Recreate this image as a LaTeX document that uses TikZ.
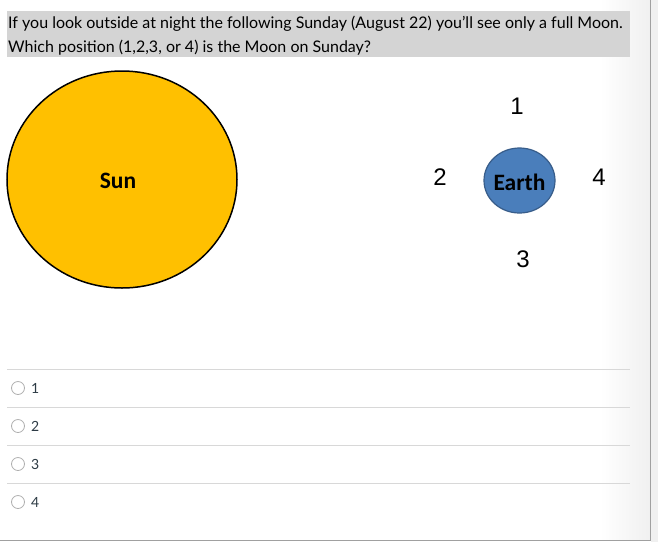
\documentclass[tikz,border=0pt]{standalone}
\usepackage{fontspec}
\setmainfont{Lato}
\newfontfamily\calfont{Carlito}
\newfontfamily\arialfont{Liberation Sans}
\usetikzlibrary{shapes.geometric}
\definecolor{bandgray}{HTML}{D4D4D4}
\definecolor{sungold}{HTML}{FFC000}
\definecolor{earthblue}{HTML}{4A7EBB}
\definecolor{earthedge}{HTML}{385D8A}
\definecolor{rulegray}{HTML}{D8D8D8}
\definecolor{optink}{HTML}{2D3B45}
\definecolor{radiogray}{HTML}{AFAFAF}
\definecolor{framegray}{HTML}{A0A0A0}
\definecolor{sidegray}{HTML}{F0F0F0}
\tikzset{
  x=1pt,y=-1pt,
  posnum/.style={font=\arialfont\fontsize{24}{24}\selectfont, inner sep=0pt},
  sep/.style={draw=rulegray, line width=1pt},
  radio/.style={circle, draw=radiogray, line width=0.8pt, minimum size=13pt, inner sep=0pt},
  optlabel/.style={font=\fontsize{14}{14}\selectfont, text=optink, anchor=west, inner sep=0pt},
}
\begin{document}
\begin{tikzpicture}
\useasboundingbox (0,0) rectangle (658,542);
\fill[white] (0,0) rectangle (658,542);
% right side shading
\fill[sidegray] (651,0) rectangle (658,542);
\shade[left color=white, right color=sidegray] (600,0) rectangle (650,540);
% frame
\draw[framegray, line width=1.2pt] (650.5,0) -- (650.5,540.5) -- (0,540.5);
% header band
\fill[bandgray] (7,11) rectangle (630,57);
\node[anchor=base west, inner sep=0pt, font=\fontsize{16}{16}\selectfont] (q1) at (8,28) {If you look outside at night the following Sunday (August 22) you'll see only a full Moon.};
\node[anchor=base west, inner sep=0pt, font=\fontsize{16}{16}\selectfont] (q2) at (8,52) {Which position (1,2,3, or 4) is the Moon on Sunday?};
% Sun
\node[ellipse, draw=black, line width=1.5pt, fill=sungold, minimum width=230pt, minimum height=217pt, inner sep=0pt] (sun) at (122,179.5) {};
\node[font=\calfont\bfseries\fontsize{23.5}{23.5}\selectfont, inner sep=0pt] (sunlbl) at (118,181) {Sun};
% Earth
\node[ellipse, draw=earthedge, line width=1.2pt, fill=earthblue, minimum width=71pt, minimum height=65pt, inner sep=0pt] (earth) at (519.5,180.5) {};
\node[font=\calfont\bfseries\fontsize{23.5}{23.5}\selectfont, inner sep=0pt] (earthlbl) at (519.5,182) {Earth};
% positions
\node[posnum] (p1) at (517,106) {1};
\node[posnum] (p2) at (440,177) {2};
\node[posnum] (p3) at (523,259) {3};
\node[posnum] (p4) at (599,177) {4};
% options
\draw[sep] (7,369) -- (630,369);
\draw[sep] (7,407) -- (630,407);
\draw[sep] (7,445) -- (630,445);
\draw[sep] (7,483) -- (630,483);
\node[radio] (r1) at (18,388) {};
\node[radio] (r2) at (18,426) {};
\node[radio] (r3) at (18,464) {};
\node[radio] (r4) at (18,502) {};
\node[optlabel] (o1) at (31,388) {1};
\node[optlabel] (o2) at (31,426) {2};
\node[optlabel] (o3) at (31,464) {3};
\node[optlabel] (o4) at (31,502) {4};
\end{tikzpicture}
\end{document}
